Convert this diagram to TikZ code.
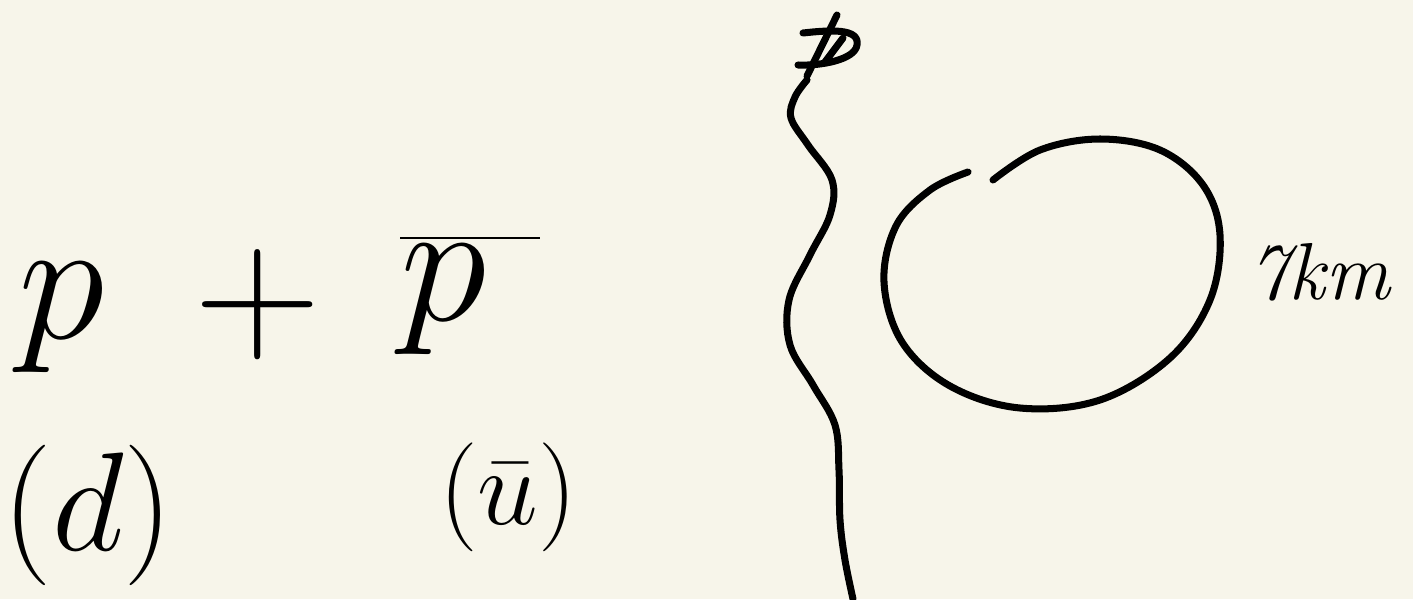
\documentclass[tikz,border=0pt]{standalone}
\usepackage{fix-cm}
\usepackage{amsmath}
\definecolor{paper}{HTML}{F7F5EA}
\begin{document}
\begin{tikzpicture}[x=0.02cm,y=-0.02cm,
  pen/.style={line width=4pt, line cap=round, line join=round, black},
  big/.style={inner sep=0pt, font=\fontsize{100}{100}\selectfont},
  mid/.style={inner sep=0pt, font=\fontsize{80}{80}\selectfont},
  small/.style={inner sep=0pt, font=\fontsize{62}{62}\selectfont},
  lbl/.style={inner sep=0pt, font=\fontsize{46}{46}\selectfont\itshape}]
\fill[paper] (0,0) rectangle (1413,599);
\useasboundingbox (0,0) rectangle (1413,599);
% formula
\node[big] (p) at (62,318) {$p$};
\node[big] (plus) at (258,305) {$+$};
\node[big] (pbar) at (470,295) {$\overline{p\hspace{30pt}}$};
\node[mid] (d) at (88,515) {$(d)$};
\node[small] (ubar) at (508,497) {$(\bar{u})$};
% scribble at top
\coordinate (s) at (807,80);
\draw[pen] (837,15) -- (807,76);
\draw[pen] (803,33) .. controls (830,30) and (860,28) .. (857,45) .. controls (855,60) and (820,66) .. (798,65);
\draw[pen] (843,38) -- (825,62);
% wavy line
\draw[pen] plot[smooth, tension=0.6] coordinates {(s) (795,97) (791,118) (808,145) (832,180) (830,215) (810,255) (789,300) (790,345) (813,385) (835,425) (839,470) (840,520) (845,560) (853,599)};
% loop
\draw[pen] plot[smooth, tension=0.6] coordinates {(993,180) (1040,150) (1100,139) (1160,150) (1203,185) (1220,235) (1210,300) (1170,358) (1100,400) (1020,408) (950,386) (902,342) (884,282) (896,226) (930,190) (968,172)};
\node[lbl, anchor=west] (km) at (1248,272) {7km};
\end{tikzpicture}
\end{document}
